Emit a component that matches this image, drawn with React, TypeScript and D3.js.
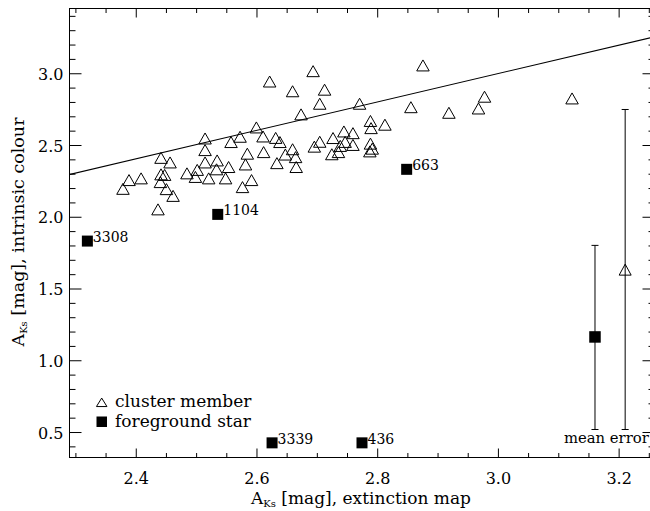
import React from 'react';
import * as d3 from 'd3';

// ---- data ----
const clusterX = [
  2.378, 2.388, 2.408, 2.441, 2.456, 2.441, 2.447, 2.440, 2.450, 2.461,
  2.436, 2.484, 2.498, 2.501, 2.514, 2.514, 2.514, 2.520, 2.534, 2.533,
  2.548, 2.553, 2.557, 2.572, 2.584, 2.581, 2.576, 2.591, 2.599, 2.610,
  2.611, 2.621, 2.631, 2.638, 2.633, 2.647, 2.659, 2.659, 2.664, 2.665,
  2.673, 2.693, 2.704, 2.712, 2.695, 2.704, 2.726, 2.744, 2.759, 2.746,
  2.738, 2.759, 2.735, 2.724, 2.770, 2.788, 2.789, 2.812, 2.788, 2.791,
  2.787, 2.855, 2.875, 2.918, 2.967, 2.977, 3.122,
];
const clusterY = [
  2.198, 2.259, 2.271, 2.414, 2.382, 2.299, 2.295, 2.245, 2.196, 2.149,
  2.055, 2.306, 2.281, 2.330, 2.549, 2.468, 2.382, 2.271, 2.396, 2.334,
  2.271, 2.350, 2.524, 2.561, 2.443, 2.368, 2.210, 2.259, 2.626, 2.563,
  2.454, 2.946, 2.553, 2.524, 2.377, 2.437, 2.474, 2.878, 2.419, 2.350,
  2.717, 3.018, 2.791, 2.889, 2.492, 2.526, 2.552, 2.598, 2.586, 2.525,
  2.497, 2.504, 2.454, 2.439, 2.791, 2.671, 2.621, 2.645, 2.513, 2.478,
  2.459, 2.767, 3.058, 2.728, 2.758, 2.840, 2.828,
];
const fgX = [2.319, 2.535, 2.848, 2.625, 2.774];
const fgY = [1.834, 2.020, 2.334, 0.428, 0.428];
const fgLabels = ['3308', '1104', '663', '3339', '436'];
const fitX = [2.28, 3.27];
const fitY = [2.289, 3.269];
const errX = [3.16, 3.21];
const errY = [1.166, 1.635];
const errLow = [0.521, 0.521];
const errHigh = [1.804, 2.751];
const errSymbol = ['square', 'triangle'];
const xTickValues = [2.4, 2.6, 2.8, 3.0, 3.2];
const xTickLabels = ['2.4', '2.6', '2.8', '3.0', '3.2'];
const yTickValues = [0.5, 1.0, 1.5, 2.0, 2.5, 3.0];
const yTickLabels = ['0.5', '1.0', '1.5', '2.0', '2.5', '3.0'];
const legendLabels = ['cluster member', 'foreground star'];

const FONT = '"DejaVu Serif", "Liberation Serif", serif';

const L = 69.5, R = 654.5, T = 8.5, B = 457.5;

const tri = (cx: number, cy: number, w: number, h: number) =>
  `M${cx - w / 2},${cy + h / 2}L${cx},${cy - h / 2}L${cx + w / 2},${cy + h / 2}Z`;

export default function App() {
  const x = d3.scaleLinear().domain([2.2894, 3.2586]).range([L, R]);
  const y = d3.scaleLinear().domain([0.3259, 3.4547]).range([B, T]);

  const xMinor = d3.range(46, 66).map((i) => i * 0.05).filter((v) => Math.abs(v * 5 - Math.round(v * 5)) > 1e-6);
  const yMinor = d3.range(4, 35).map((i) => i / 10).filter((v) => Math.abs(v * 2 - Math.round(v * 2)) > 1e-6);

  const line = d3.line<number>().x((_, i) => x(fitX[i])).y((d) => y(d));

  return (
    <svg width={650} height={511} style={{ position: 'absolute', left: 0, top: 0, background: '#fff' }}>
      <defs>
        <clipPath id="plotclip">
          <rect x={L} y={T} width={R - L} height={B - T} />
        </clipPath>
      </defs>
      <rect x={0} y={0} width={650} height={511} fill="#fff" />

      {/* frame */}
      <rect x={L} y={T} width={R - L} height={B - T} fill="none" stroke="#000" strokeWidth={1} />

      {/* x ticks bottom & top */}
      {xTickValues.map((v) => (
        <g key={'xM' + v}>
          <line x1={x(v)} x2={x(v)} y1={B} y2={B - 9} stroke="#000" />
          <line x1={x(v)} x2={x(v)} y1={T} y2={T + 9} stroke="#000" />
        </g>
      ))}
      {xMinor.map((v) => (
        <g key={'xm' + v}>
          <line x1={x(v)} x2={x(v)} y1={B} y2={B - 4.5} stroke="#000" />
          <line x1={x(v)} x2={x(v)} y1={T} y2={T + 4.5} stroke="#000" />
        </g>
      ))}
      {xTickValues.map((v, i) => (
        <text key={'xl' + v} x={x(v)} y={483.5} textAnchor="middle" fontFamily={FONT} fontSize={16}>
          {xTickLabels[i]}
        </text>
      ))}

      {/* y ticks left & right */}
      {yTickValues.map((v) => (
        <g key={'yM' + v}>
          <line x1={L} x2={L + 12} y1={y(v)} y2={y(v)} stroke="#000" />
          <line x1={R} x2={R - 12} y1={y(v)} y2={y(v)} stroke="#000" />
        </g>
      ))}
      {yMinor.map((v) => (
        <g key={'ym' + v}>
          <line x1={L} x2={L + 6} y1={y(v)} y2={y(v)} stroke="#000" />
          <line x1={R} x2={R - 6} y1={y(v)} y2={y(v)} stroke="#000" />
        </g>
      ))}
      {yTickValues.map((v, i) => (
        <text key={'yl' + v} x={63.5} y={y(v) + 6} textAnchor="end" fontFamily={FONT} fontSize={16}>
          {yTickLabels[i]}
        </text>
      ))}

      {/* axis titles */}
      <text x={361} y={504} textAnchor="middle" fontFamily={FONT} fontSize={17}>
        A<tspan fontSize={10} dy={3}>Ks</tspan>
        <tspan dy={-3}> [mag], extinction map</tspan>
      </text>
      <text transform="translate(23.5,232) rotate(-90)" textAnchor="middle" fontFamily={FONT} fontSize={17.5}>
        A<tspan fontSize={10} dy={3}>Ks</tspan>
        <tspan dy={-3}> [mag], intrinsic colour</tspan>
      </text>

      {/* fit line */}
      <g clipPath="url(#plotclip)">
        <path d={line(fitY) || ''} fill="none" stroke="#000" strokeWidth={1.1} />
      </g>

      {/* cluster members */}
      {clusterX.map((cx, i) => (
        <path key={'c' + i} d={tri(x(cx), y(clusterY[i]), 12.5, 11)} fill="none" stroke="#000" strokeWidth={1} />
      ))}

      {/* foreground stars */}
      {fgX.map((fx, i) => (
        <g key={'f' + i}>
          <rect x={x(fx) - 5.5} y={y(fgY[i]) - 5.5} width={11} height={11} fill="#000" />
          <text x={x(fx) + 5.5} y={y(fgY[i]) + 1} fontFamily={FONT} fontSize={14}>
            {fgLabels[i]}
          </text>
        </g>
      ))}

      {/* mean errors */}
      {errX.map((ex, i) => {
        const px = x(ex);
        return (
          <g key={'e' + i}>
            <line x1={px} x2={px} y1={y(errLow[i])} y2={y(errHigh[i])} stroke="#000" />
            <line x1={px - 3.5} x2={px + 3.5} y1={y(errLow[i])} y2={y(errLow[i])} stroke="#000" />
            <line x1={px - 3.5} x2={px + 3.5} y1={y(errHigh[i])} y2={y(errHigh[i])} stroke="#000" />
            {errSymbol[i] === 'square' ? (
              <rect x={px - 5.75} y={y(errY[i]) - 5.75} width={11.5} height={11.5} fill="#000" />
            ) : (
              <path d={tri(px, y(errY[i]), 12, 11)} fill="none" stroke="#000" />
            )}
          </g>
        );
      })}
      <text x={564} y={442.5} fontFamily={FONT} fontSize={14.8}>mean error</text>

      {/* legend */}
      <path d={tri(101.7, 402.3, 10.5, 8.5)} fill="none" stroke="#000" />
      <text x={115} y={406.7} fontFamily={FONT} fontSize={17}>{legendLabels[0]}</text>
      <rect x={96.5} y={416.5} width={10.5} height={10.5} fill="#000" />
      <text x={115} y={426.7} fontFamily={FONT} fontSize={17}>{legendLabels[1]}</text>
    </svg>
  );
}
